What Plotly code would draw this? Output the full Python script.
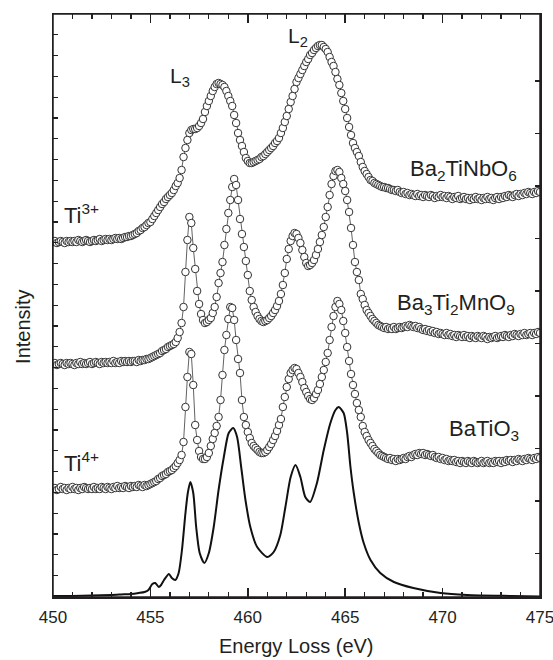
import numpy as np
import plotly.graph_objects as go

# ---------------- data (arbitrary intensity units) ----------------
E_START, E_STEP = 450.0, 0.1

ba2tinbo6 = [
    355, 356, 354, 355, 356, 355, 354, 356, 355, 356,
    355, 356, 355, 357, 356, 355, 356, 357, 356, 355,
    356, 357, 356, 357, 358, 356, 357, 358, 357, 358,
    357, 358, 359, 358, 359, 358, 359, 360, 360, 361,
    361, 362, 363, 364, 366, 367, 369, 370, 372, 374,
    375, 378, 381, 384, 387, 390, 393, 395, 398, 400,
    402, 404, 407, 411, 414, 419, 427, 440, 449, 457,
    464, 467, 468, 468, 469, 471, 474, 478, 485, 491,
    496, 501, 506, 510, 513, 514, 513, 512, 510, 506,
    501, 496, 491, 482, 474, 464, 457, 451, 445, 439,
    436, 434, 434, 435, 436, 437, 438, 440, 441, 443,
    445, 447, 449, 451, 454, 456, 459, 464, 469, 475,
    481, 488, 495, 501, 508, 515, 519, 523, 527, 531,
    535, 538, 542, 544, 547, 549, 551, 552, 552, 550,
    548, 545, 540, 535, 531, 525, 518, 512, 504, 496,
    488, 479, 470, 462, 454, 449, 445, 441, 435, 430,
    426, 423, 420, 417, 416, 414, 413, 412, 411, 410,
    410, 409, 409, 408, 407, 407, 406, 407, 405, 404,
    405, 403, 404, 402, 403, 402, 401, 403, 401, 402,
    400, 402, 401, 400, 402, 401, 399, 401, 400, 402,
    400, 401, 399, 401, 400, 398, 400, 399, 401, 398,
    399, 400, 398, 399, 397, 399, 398, 400, 398, 399,
    397, 399, 398, 400, 398, 399, 397, 399, 400, 398,
    400, 399, 401, 400, 402, 401, 400, 402, 403, 401,
    403, 402, 404, 403, 405, 404, 403, 405, 404, 406,
    405,
]

ba3ti2mno9 = [
    233, 234, 232, 233, 234, 233, 232, 234, 233, 234,
    233, 232, 234, 233, 235, 233, 234, 233, 234, 235,
    233, 234, 235, 234, 233, 235, 234, 235, 234, 235,
    234, 236, 234, 235, 234, 236, 235, 236, 235, 236,
    235, 236, 236, 235, 237, 236, 237, 237, 238, 238,
    239, 240, 241, 242, 243, 244, 246, 247, 248, 250,
    251, 252, 253, 255, 259, 265, 274, 290, 325, 357,
    380, 374, 349, 328, 306, 293, 283, 277, 274, 275,
    277, 279, 284, 290, 300, 314, 324, 335, 352, 368,
    384, 397, 410, 418, 412, 397, 378, 363, 350, 336,
    322, 306, 297, 290, 285, 281, 278, 276, 275, 276,
    277, 279, 281, 284, 287, 291, 296, 303, 312, 324,
    338, 348, 356, 361, 364, 363, 359, 354, 347, 340,
    334, 331, 332, 334, 337, 342, 348, 355, 362, 370,
    380, 390, 402, 413, 421, 426, 427, 425, 419, 413,
    406, 397, 385, 369, 352, 335, 325, 317, 303, 298,
    292, 287, 284, 281, 278, 276, 274, 272, 271, 270,
    269, 270, 268, 269, 268, 270, 268, 269, 270, 269,
    270, 271, 270, 272, 271, 270, 271, 269, 270, 268,
    267, 268, 266, 267, 265, 266, 264, 265, 263, 264,
    263, 262, 264, 262, 263, 261, 262, 260, 262, 261,
    260, 262, 260, 261, 259, 261, 260, 259, 261, 260,
    259, 261, 260, 258, 260, 259, 260, 261, 259, 260,
    261, 260, 262, 261, 260, 262, 261, 263, 262, 261,
    263, 262, 264, 262, 263, 264, 262, 264, 263, 265,
    264,
]

batio3 = [
    108, 109, 107, 108, 110, 108, 109, 107, 109, 108,
    110, 108, 109, 107, 109, 108, 110, 109, 108, 109,
    108, 110, 108, 109, 108, 110, 109, 108, 110, 109,
    108, 110, 109, 111, 109, 110, 109, 111, 110, 109,
    111, 110, 111, 110, 112, 111, 110, 112, 111, 112,
    113, 114, 115, 116, 118, 119, 121, 122, 123, 125,
    126, 127, 129, 131, 134, 137, 142, 155, 190, 220,
    245, 243, 212, 172, 157, 146, 140, 138, 138, 140,
    144, 151, 158, 164, 171, 180, 197, 222, 247, 262,
    278, 290, 289, 277, 257, 238, 224, 197, 180, 172,
    165, 159, 154, 151, 149, 147, 145, 144, 144, 145,
    147, 150, 153, 157, 161, 166, 172, 178, 190, 200,
    210, 218, 224, 227, 229, 228, 224, 220, 215, 209,
    205, 201, 198, 197, 199, 203, 207, 213, 220, 227,
    235, 244, 257, 270, 281, 290, 296, 293, 287, 276,
    264, 250, 236, 223, 212, 203, 194, 187, 180, 171,
    165, 161, 157, 154, 151, 148, 146, 144, 142, 141,
    140, 139, 138, 139, 137, 138, 136, 138, 137, 138,
    139, 138, 140, 141, 140, 142, 143, 142, 144, 143,
    144, 142, 143, 142, 141, 142, 140, 139, 140, 138,
    139, 137, 138, 136, 137, 136, 137, 135, 136, 134,
    136, 135, 134, 136, 135, 134, 136, 135, 134, 135,
    136, 134, 135, 136, 134, 135, 134, 136, 135, 136,
    134, 136, 135, 137, 136, 137, 135, 137, 136, 138,
    137, 136, 138, 137, 139, 138, 137, 139, 138, 140,
    139,
]

calc_energy = [
    450.0, 451.0, 452.0, 453.0, 453.5, 454.0, 454.4, 454.7, 454.9, 455.0,
    455.1, 455.25, 455.43, 455.55, 455.7, 455.95, 456.1, 456.28, 456.45, 456.62,
    456.8, 456.92, 457.05, 457.2, 457.35, 457.53, 457.77, 458.0, 458.25, 458.5,
    458.77, 459.02, 459.25, 459.45, 459.66, 459.88, 460.13, 460.48, 461.0, 461.33,
    461.67, 461.93, 462.2, 462.45, 462.7, 462.95, 463.2, 463.55, 463.9, 464.24,
    464.5, 464.67, 464.92, 465.1, 465.27, 465.44, 465.7, 465.95, 466.3, 466.8,
    467.5, 468.5, 469.9, 471.25, 473.5, 475.0,
]
calc_intensity = [
    1, 1, 1.5, 2, 2.5, 3, 4, 5, 7, 10,
    13, 14, 10, 12, 17, 23, 19, 17, 24, 47,
    84, 104, 115, 104, 70, 44, 34, 44, 70, 107,
    140, 164, 169, 160, 130, 97, 70, 50, 40, 45,
    62, 90, 120, 132, 120, 100, 95, 114, 147, 174,
    187, 190, 184, 164, 130, 104, 74, 54, 37, 24,
    15, 9, 4, 2, 1, 0.5,
]

right_tick_vals = [516, 463.5, 411, 358.5, 306, 253.5, 201, 148.5, 96, 43.5]

labels = {
    "top": "Ba<sub>2</sub>TiNbO<sub>6</sub>",
    "mid": "Ba<sub>3</sub>Ti<sub>2</sub>MnO<sub>9</sub>",
    "bot": "BaTiO<sub>3</sub>",
}

# ---------------- figure ----------------
FONT = "Liberation Sans, Arial, Helvetica, sans-serif"
INK = "#231f20"

def energies(values):
    return np.round(E_START + E_STEP * np.arange(len(values)), 2)

fig = go.Figure()

for vals in (ba2tinbo6, ba3ti2mno9, batio3):
    fig.add_trace(go.Scatter(
        x=energies(vals), y=vals, mode="lines+markers",
        line=dict(color="#3a3a3a", width=0.8),
        marker=dict(symbol="circle", size=7.5, color="white",
                    line=dict(color="#333333", width=1)),
        showlegend=False, hoverinfo="skip",
    ))

fig.add_trace(go.Scatter(
    x=calc_energy, y=calc_intensity, mode="lines",
    line=dict(color="#111111", width=2, shape="spline", smoothing=0.7),
    showlegend=False, hoverinfo="skip",
))

# dummy trace so that the right-hand axis is drawn
fig.add_trace(go.Scatter(x=[None], y=[None], yaxis="y2", showlegend=False, hoverinfo="skip"))

def ann(x, y, text, size=22, **kw):
    fig.add_annotation(x=x, y=y, xref="x", yref="y", text=text, showarrow=False,
                       font=dict(family=FONT, size=size, color=INK), **kw)

ann(468.2, 427, labels["top"], xanchor="left", yanchor="middle")
ann(467.55, 293, labels["mid"], xanchor="left", yanchor="middle")
ann(470.25, 167, labels["bot"], xanchor="left", yanchor="middle")
ann(450.45, 383, "Ti<sup>3+</sup>", xanchor="left", yanchor="middle")
ann(450.45, 135, "Ti<sup>4+</sup>", xanchor="left", yanchor="middle")
ann(455.9, 520, "L<sub>3</sub>", size=21, xanchor="left", yanchor="middle")
ann(461.95, 560, "L<sub>2</sub>", size=21, xanchor="left", yanchor="middle")

fig.add_annotation(x=-0.062, y=0.463, xref="paper", yref="paper", text="Intensity",
                   textangle=-90, showarrow=False, xanchor="center", yanchor="middle",
                   font=dict(family=FONT, size=20, color=INK))
fig.add_annotation(x=0.5, y=-0.084, xref="paper", yref="paper", text="Energy Loss (eV)",
                   showarrow=False, xanchor="center", yanchor="middle",
                   font=dict(family=FONT, size=20, color=INK))

# plot frame
fig.add_shape(type="rect", xref="paper", yref="paper", x0=0, x1=1, y0=0, y1=1,
              line=dict(color=INK, width=1.5), layer="above")

fig.update_layout(
    width=553, height=660,
    margin=dict(l=53, r=13, t=14, b=63, autoexpand=False),
    paper_bgcolor="white", plot_bgcolor="white",
    font=dict(family=FONT, color=INK),
    xaxis=dict(
        range=[450, 475], tickmode="linear", tick0=450, dtick=5,
        ticks="inside", ticklen=9, tickwidth=1.5, tickcolor=INK,
        showline=True, linewidth=1.5, linecolor=INK, mirror="ticks",
        showgrid=False, zeroline=False, ticklabeloverflow="allow",
        ticklabelstandoff=4,
        tickfont=dict(family=FONT, size=17, color=INK),
        minor=dict(tickmode="linear", dtick=1, ticks="inside", ticklen=5,
                   tickwidth=1.3, tickcolor=INK, showgrid=False),
    ),
    yaxis=dict(
        range=[0, 583], tickmode="linear", tick0=583, dtick=20.8, ticks="inside", ticklen=5,
        tickwidth=1.3, tickcolor=INK, showline=True, linewidth=1.5, linecolor=INK,
        showticklabels=False, showgrid=False, zeroline=False, mirror=False,
    ),
    yaxis2=dict(
        range=[0, 583], overlaying="y", side="right", tickmode="array",
        tickvals=right_tick_vals, showticklabels=False,
        ticks="inside", ticklen=5, tickwidth=1.3, tickcolor=INK, showline=True,
        linewidth=1.5, linecolor=INK, showgrid=False, zeroline=False,
    ),
)

fig.write_html(
    "out.html",
    config={"displayModeBar": False, "staticPlot": True},
    post_script="document.body.style.margin='0';document.body.style.overflow='hidden';",
)
